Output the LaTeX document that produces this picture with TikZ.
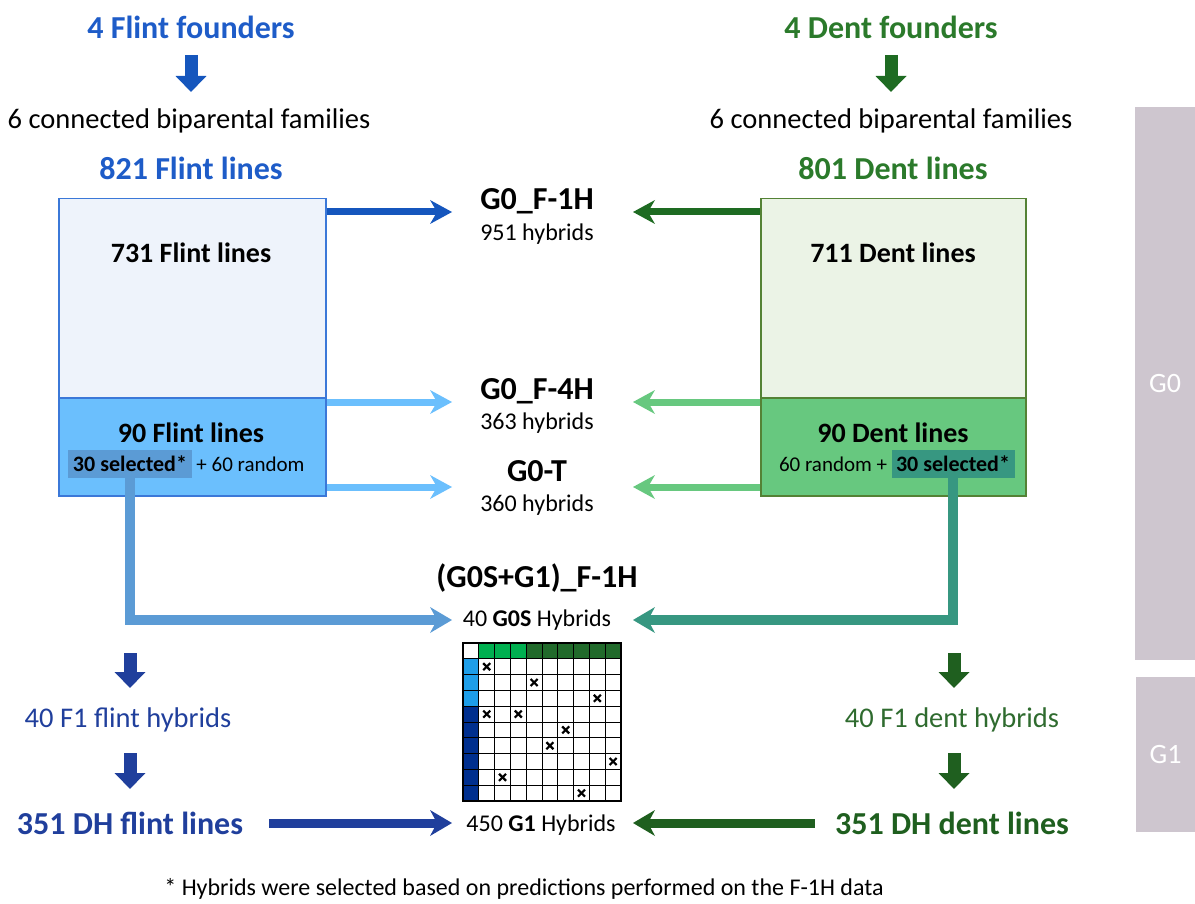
\documentclass[tikz,border=0pt]{standalone}
\usepackage{fontspec}
\setmainfont{Carlito}
\usetikzlibrary{arrows.meta}
\definecolor{flintT}{HTML}{1E5CC8}
\definecolor{flintA}{HTML}{1556BD}
\definecolor{flintB}{HTML}{3B78D8}
\definecolor{flintL}{HTML}{EEF3FB}
\definecolor{flintS}{HTML}{6BBFFD}
\definecolor{flintH}{HTML}{5B9BD5}
\definecolor{navy}{HTML}{203F9C}
\definecolor{dentT}{HTML}{2B7A2B}
\definecolor{dentA}{HTML}{1E6B22}
\definecolor{dentB}{HTML}{548235}
\definecolor{dentL}{HTML}{EBF3E6}
\definecolor{dentS}{HTML}{67C87F}
\definecolor{dentH}{HTML}{379781}
\definecolor{dgreen}{HTML}{1F5F1F}
\definecolor{dtext}{HTML}{2F6B2F}
\definecolor{barC}{HTML}{CEC6CF}
\definecolor{mLB}{HTML}{1E9EE8}
\definecolor{mDB}{HTML}{002F8E}
\definecolor{mLG}{HTML}{00B050}
\definecolor{mDG}{HTML}{216A2B}
\newcommand\myfs[1]{\fontsize{#1}{#1}\selectfont}
\begin{document}
\begin{tikzpicture}[x=1pt,y=-1pt,
  big/.style={font=\myfs{32}\bfseries, inner sep=0pt},
  boxt/.style={font=\myfs{28}\bfseries, inner sep=0pt},
  plain/.style={font=\myfs{28.5}, inner sep=0pt},
  subt/.style={font=\myfs{24}, inner sep=0pt},
  selt/.style={font=\myfs{21}, inner sep=0pt},
  fatd/.style={line width=13pt, -{Triangle[length=16pt,width=30pt]}},
  harr/.style={line width=7pt, -{Stealth[length=22pt,width=24pt,inset=7pt,line width=0pt]}},
  larr/.style={line width=10pt, line join=miter, -{Stealth[length=22pt,width=26pt,inset=7pt,line width=0pt]}},
  barr/.style={line width=9pt, -{Stealth[length=22pt,width=26pt,inset=7pt,line width=0pt]}},
  gbar/.style={fill=barC, draw=none, text=white, font=\myfs{28}, inner sep=0pt}
]
\useasboundingbox (0,0) rectangle (1195,904);

% side bars
\node[gbar, minimum width=60pt, minimum height=553pt] (bar0) at (1165,383.5) {G0};
\node[gbar, minimum width=59pt, minimum height=155pt] (bar1) at (1165.5,754.5) {G1};

% ---------- flint side
\node[big, text=flintT] (ff) at (191,27) {4 Flint founders};
\node[plain] (cbf) at (189,121) {6 connected biparental families};
\node[big, text=flintT] (fl821) at (191,168) {821 Flint lines};
\coordinate (fa1s) at (191,55); \coordinate (fa1e) at (191,92);
\draw[fatd, flintA] (fa1s) -- (fa1e);

\node[draw=flintB, line width=1.5pt, fill=flintL, minimum width=267pt, minimum height=199pt, anchor=north west, inner sep=0pt] (lbup) at (58,198) {};
\node[draw=flintB, line width=1.5pt, fill=flintS, minimum width=267pt, minimum height=98pt, anchor=north west, inner sep=0pt] (lblo) at (58,397) {};
\node[boxt] (f731) at (191,253) {731 Flint lines};
\node[boxt] (f90) at (191,433) {90 Flint lines};
\node[selt, fill=flintH, minimum width=124pt, minimum height=28pt, font=\myfs{22}\bfseries] (sel1) at (130,464) {30 selected*};
\node[selt, anchor=west] (rnd1) at ([xshift=4pt]sel1.east) {+ 60 random};

% ---------- dent side
\node[big, text=dentT] (df) at (891,27) {4 Dent founders};
\node[plain] (cbd) at (891,121) {6 connected biparental families};
\node[big, text=dentT] (dl801) at (893,168) {801 Dent lines};
\coordinate (fa2s) at (891,55); \coordinate (fa2e) at (891,92);
\draw[fatd, dentA] (fa2s) -- (fa2e);

\node[draw=dentB, line width=1.5pt, fill=dentL, minimum width=265pt, minimum height=199pt, anchor=north west, inner sep=0pt] (rbup) at (760,198) {};
\node[draw=dentB, line width=1.5pt, fill=dentS, minimum width=265pt, minimum height=98pt, anchor=north west, inner sep=0pt] (rblo) at (760,397) {};
\node[boxt] (d711) at (893,253) {711 Dent lines};
\node[boxt] (d90) at (893,433) {90 Dent lines};
\node[selt, fill=dentH, minimum width=123pt, minimum height=28pt, font=\myfs{22}\bfseries] (sel2) at (953,464) {30 selected*};
\node[selt, anchor=east] (rnd2) at ([xshift=-4pt]sel2.west) {60 random +};

% ---------- middle labels
\node[big] (g1h) at (537,201) {G0\_F-1H};
\node[subt] (g1hs) at (537,234) {951 hybrids};
\node[big] (g4h) at (537,391) {G0\_F-4H};
\node[subt] (g4hs) at (537,423) {363 hybrids};
\node[big] (gt) at (537,471) {G0-T};
\node[subt] (gts) at (537,505) {360 hybrids};
\node[big] (gs) at (537,578) {(G0S+G1)\_F-1H};
\node[subt] (gss) at (537,620) {40 \textbf{G0S} Hybrids};
\node[subt] (g1s) at (541,825) {450 \textbf{G1} Hybrids};

% arrow tips
\coordinate (t1L) at (452,212); \coordinate (t1R) at (633,212);
\coordinate (t2L) at (452,402); \coordinate (t2R) at (633,402);
\coordinate (t3L) at (452,487); \coordinate (t3R) at (633,487);
\coordinate (t4L) at (452,620); \coordinate (t4R) at (633,620);
\coordinate (t5L) at (452,823); \coordinate (t5R) at (633,823);

\draw[harr, flintA] (lbup.east |- t1L) -- (t1L);
\draw[harr, dentA] (rbup.west |- t1R) -- (t1R);
\draw[harr, flintS] (lblo.east |- t2L) -- (t2L);
\draw[harr, dentS] (rblo.west |- t2R) -- (t2R);
\draw[harr, flintS] (lblo.east |- t3L) -- (t3L);
\draw[harr, dentS] (rblo.west |- t3R) -- (t3R);
\draw[larr, flintH] (sel1.south) -- (sel1.south |- t4L) -- (t4L);
\draw[larr, dentH] (sel2.south) -- (sel2.south |- t4R) -- (t4R);

% ---------- matrix
\begin{scope}[shift={(463,643)}]
  \def\cs{15.8}
  \foreach \c in {2,3,4} \fill[mLG] ({(\c-1)*\cs},0) rectangle ({\c*\cs},\cs);
  \foreach \c in {5,...,10} \fill[mDG] ({(\c-1)*\cs},0) rectangle ({\c*\cs},\cs);
  \foreach \r in {2,3,4} \fill[mLB] (0,{(\r-1)*\cs}) rectangle (\cs,{\r*\cs});
  \foreach \r in {5,...,10} \fill[mDB] (0,{(\r-1)*\cs}) rectangle (\cs,{\r*\cs});
  \foreach \i in {1,...,9} {
    \draw[line width=1pt] ({\i*\cs},0) -- ({\i*\cs},{10*\cs});
    \draw[line width=1pt] (0,{\i*\cs}) -- ({10*\cs},{\i*\cs});
  }
  \draw[line width=2pt] (0,0) rectangle ({10*\cs},{10*\cs});
  \foreach \c/\r in {2/2,5/3,9/4,2/5,4/5,7/6,6/7,10/8,3/9,8/10} {
    \draw[line width=2.2pt] ({(\c-0.5)*\cs-3.5},{(\r-0.5)*\cs-3.5}) -- ({(\c-0.5)*\cs+3.5},{(\r-0.5)*\cs+3.5});
    \draw[line width=2.2pt] ({(\c-0.5)*\cs-3.5},{(\r-0.5)*\cs+3.5}) -- ({(\c-0.5)*\cs+3.5},{(\r-0.5)*\cs-3.5});
  }
\end{scope}

% ---------- bottom flint
\coordinate (fb1s) at (130,653); \coordinate (fb1e) at (130,688);
\coordinate (fb2s) at (130,753); \coordinate (fb2e) at (130,789);
\draw[fatd, navy] (fb1s) -- (fb1e);
\node[plain, text=navy] (f1f) at (128,720) {40 F1 flint hybrids};
\draw[fatd, navy] (fb2s) -- (fb2e);
\node[big, text=navy] (dhf) at (130,823) {351 DH flint lines};
\draw[barr, navy, shorten <=26pt] (dhf.east |- t5L) -- (t5L);

% ---------- bottom dent
\coordinate (db1s) at (954,653); \coordinate (db1e) at (954,688);
\coordinate (db2s) at (954,753); \coordinate (db2e) at (954,789);
\draw[fatd, dgreen] (db1s) -- (db1e);
\node[plain, text=dtext] (f1d) at (952,720) {40 F1 dent hybrids};
\draw[fatd, dgreen] (db2s) -- (db2e);
\node[big, text=dgreen] (dhd) at (952,823) {351 DH dent lines};
\draw[barr, dgreen, shorten <=20pt] (dhd.west |- t5R) -- (t5R);

% footnote
\node[subt] (fn) at (524,889) {* Hybrids were selected based on predictions performed on the F-1H data};
\end{tikzpicture}
\end{document}
